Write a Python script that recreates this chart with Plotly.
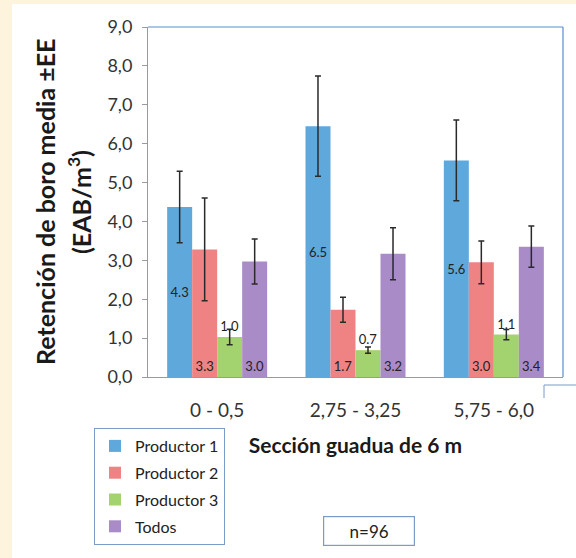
import plotly.graph_objects as go

categories = ["0 - 0,5", "2,75 - 3,25", "5,75 - 6,0"]
series_names = ["Productor 1", "Productor 2", "Productor 3", "Todos"]

p1_values = [4.37, 6.45, 5.57]
p1_errors = [0.92, 1.29, 1.04]
p1_labels = ["4.3", "6.5", "5.6"]

p2_values = [3.28, 1.73, 2.95]
p2_errors = [1.32, 0.32, 0.55]
p2_labels = ["3.3", "1.7", "3.0"]

p3_values = [1.03, 0.69, 1.09]
p3_errors = [0.20, 0.08, 0.13]
p3_labels = ["1.0", "0.7", "1.1"]

todos_values = [2.97, 3.17, 3.35]
todos_errors = [0.58, 0.67, 0.53]
todos_labels = ["3.0", "3.2", "3.4"]

colors = ["#5FA8DC", "#EF8383", "#A3D36E", "#A98BC8"]

W, H = 576, 558
L, R, T, B = 148, 13, 27, 181
PW, PH = W - L - R, H - T - B


def px_x(px):
    return (px - L) / PW


def px_y(py):
    return (H - B - py) / PH


values = [p1_values, p2_values, p3_values, todos_values]
errors = [p1_errors, p2_errors, p3_errors, todos_errors]
labels = [p1_labels, p2_labels, p3_labels, todos_labels]
positions = ["inside", "inside", "outside", "inside"]
anchors = ["middle", "start", "start", "start"]

fig = go.Figure()
for name, v, e, lab, c, pos, anc in zip(series_names, values, errors, labels,
                                        colors, positions, anchors):
    fig.add_trace(go.Bar(
        name=name, legendgroup=name,
        x=categories, y=v, marker=dict(color=c, line=dict(width=0)),
        error_y=dict(type="data", array=e, visible=True, color="#2a2a2a",
                     thickness=1.5, width=3),
        text=lab, textposition=pos, insidetextanchor=anc,
        constraintext="none", cliponaxis=False,
        textfont=dict(family="Lato", size=13, color="#222222"),
        outsidetextfont=dict(family="Lato", size=13, color="#222222"),
    ))

shapes = [
    # white panel over beige page
    dict(type="rect", xref="paper", yref="paper", layer="below",
         x0=px_x(12), x1=px_x(590), y0=px_y(570), y1=px_y(4),
         fillcolor="white", line=dict(width=0)),
    # blue frame top & right
    dict(type="line", xref="paper", yref="paper", x0=0, x1=1, y0=1, y1=1,
         line=dict(color="#5B8DC8", width=1.2)),
    dict(type="line", xref="paper", yref="paper", x0=1, x1=1, y0=0, y1=1,
         line=dict(color="#5B8DC8", width=1.2)),
    # fragment of a box at lower right
    dict(type="line", xref="paper", yref="paper", x0=px_x(544), x1=px_x(590),
         y0=px_y(385), y1=px_y(385), line=dict(color="#7A9CC8", width=1)),
    dict(type="line", xref="paper", yref="paper", x0=px_x(544), x1=px_x(544),
         y0=px_y(385), y1=px_y(398), line=dict(color="#7A9CC8", width=1)),
]

annotations = [
    dict(text="<b>Retención de boro media ±EE</b>", xref="paper", yref="paper",
         x=px_x(45), y=px_y(202), textangle=-90, showarrow=False,
         xanchor="center", yanchor="middle",
         font=dict(family="Lato", size=25, color="#1a1a1a")),
    dict(text="<b>(EAB/m<sup>3</sup>)</b>", xref="paper", yref="paper",
         x=px_x(79), y=px_y(202), textangle=-90, showarrow=False,
         xanchor="center", yanchor="middle",
         font=dict(family="Lato", size=25, color="#1a1a1a")),
    dict(text="n=96", xref="paper", yref="paper", x=px_x(369), y=px_y(531),
         showarrow=False, xanchor="center", yanchor="middle",
         width=88, height=26, bordercolor="#7A9CC8", borderwidth=1.2,
         bgcolor="white", font=dict(family="Lato", size=17, color="#222222")),
]

fig.update_layout(
    width=W, height=H,
    margin=dict(l=L, r=R, t=T, b=B, autoexpand=False),
    paper_bgcolor="#FEF3DD", plot_bgcolor="white",
    barmode="group", bargap=0.277, bargroupgap=0,
    separators=",.",
    font=dict(family="Lato", color="#333333"),
    shapes=shapes, annotations=annotations,
    showlegend=True,
    legend=dict(x=px_x(94), y=px_y(428), xanchor="left", yanchor="top",
                bordercolor="#7A9CC8", borderwidth=1, bgcolor="white",
                font=dict(family="Lato", size=16, color="#222222"),
                traceorder="grouped", tracegroupgap=3, itemclick=False),
    xaxis=dict(showline=True, linecolor="#9a9a9a", linewidth=1, ticks="",
               tickfont=dict(family="Lato", size=19, color="#333333"),
               ticklabelstandoff=16,
               title=dict(text="<b>Sección guadua de 6 m</b>", standoff=18,
                          font=dict(family="Lato", size=21, color="#1a1a1a"))),
    yaxis=dict(range=[0, 9], dtick=1, tickformat=".1f", showgrid=False,
               zeroline=False, showline=True, linecolor="#9a9a9a", linewidth=1,
               ticks="outside", ticklen=5, tickcolor="#9a9a9a",
               ticklabelstandoff=6,
               tickfont=dict(family="Lato", size=18, color="#333333")),
)

fig.write_html("out.html", config={"displayModeBar": False},
               post_script="document.body.style.margin='0';"
                           "document.body.style.background='#FEF3DD';")
